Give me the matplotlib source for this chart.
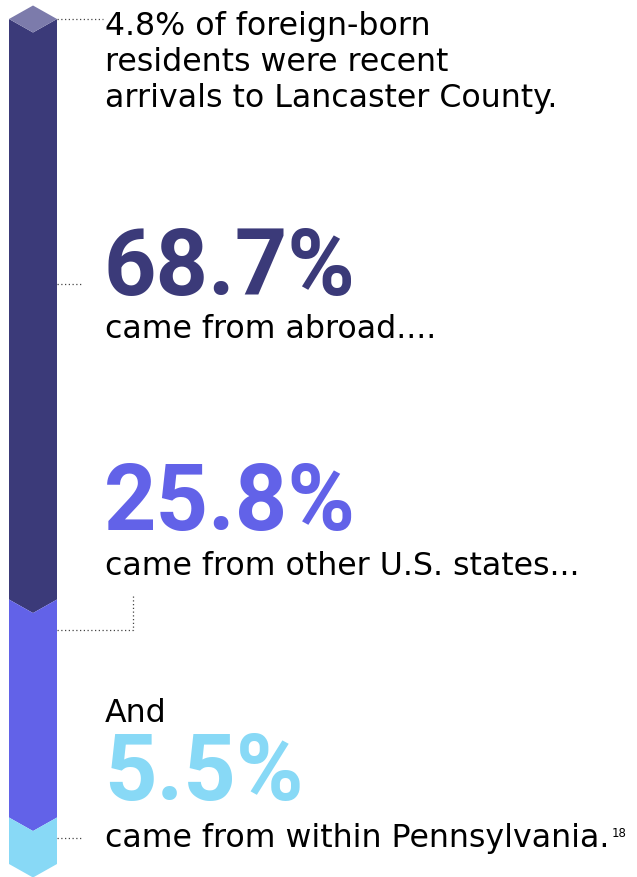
import matplotlib.pyplot as plt
from matplotlib.transforms import Affine2D

# shares of recent foreign-born arrivals (%)
labels = ["came from abroad....", "came from other U.S. states...", "came from within Pennsylvania."]
values = [68.7, 25.8, 5.5]
value_text = ["68.7%", "25.8%", "5.5%"]
colors = ["#3b3a79", "#6262e8", "#88d9f6"]
cap_color = "#7c7bab"
intro = ["4.8% of foreign-born", "residents were recent", "arrivals to Lancaster County."]

W, H = 637, 878
fig = plt.figure(figsize=(W / 100, H / 100), dpi=100)
ax = fig.add_axes([0, 0, 1, 1])
ax.axis("off")

# bar: 0% at pixel 20, 100% at pixel 865
top_px, scale = 20, 8.45
ax.set_xlim(0, W)
ax.set_ylim((H - top_px) / scale, -top_px / scale)
x0, x1 = 9, 57
xm = (x0 + x1) / 2
d = 13.5 / scale  # chevron depth in %

start = 0
for v, c in zip(values, colors):
    end = start + v
    ax.fill([x0, xm, x1, x1, xm, x0], [start, start + d, start, end, end + d, end],
            color=c, lw=0)
    start = end
# top cap
ax.fill([x0, xm, x1, xm], [0, -d, 0, d], color=cap_color, lw=0)

# pixel transform for text and leaders
px = Affine2D().scale(1 / W, -1 / H).translate(0, 1) + fig.transFigure

dot = dict(color="#444444", lw=0.9, ls=(0, (1, 2)), transform=px)
ax.plot([57, 103], [20, 20], **dot)
ax.plot([57, 82], [285, 285], **dot)
ax.plot([57, 133, 133], [631, 631, 595], **dot)
ax.plot([57, 82], [839, 839], **dot)

body = "DejaVu Sans"
font = "Roboto"
small = 22.8
big = 66
tx = 105

for i, line in enumerate(intro):
    ax.text(tx, [35, 71, 107][i], line, transform=px, fontsize=small,
            family=body, va="baseline", color="black")

ax.text(tx - 1, 295, value_text[0], transform=px, fontsize=big, family=font,
        weight="bold", color=colors[0], va="baseline")
ax.text(tx, 338, labels[0], transform=px, fontsize=small, family=body, va="baseline")

ax.text(tx - 1, 530, value_text[1], transform=px, fontsize=big, family=font,
        weight="bold", color=colors[1], va="baseline")
ax.text(tx, 575, labels[1], transform=px, fontsize=small, family=body, va="baseline")

ax.text(tx, 722, "And", transform=px, fontsize=small, family=body, va="baseline")
ax.text(tx - 1, 800, value_text[2], transform=px, fontsize=big, family=font,
        weight="bold", color=colors[2], va="baseline")
last = ax.text(tx, 847, labels[2], transform=px, fontsize=small, family=body, va="baseline")

# footnote marker right after the last line
fig.canvas.draw()
bb = last.get_window_extent()
ax.text(bb.x1 + 2, 837, "18", transform=px, fontsize=8.5, family=body, va="baseline")

fig.savefig("out.png", dpi=100)
